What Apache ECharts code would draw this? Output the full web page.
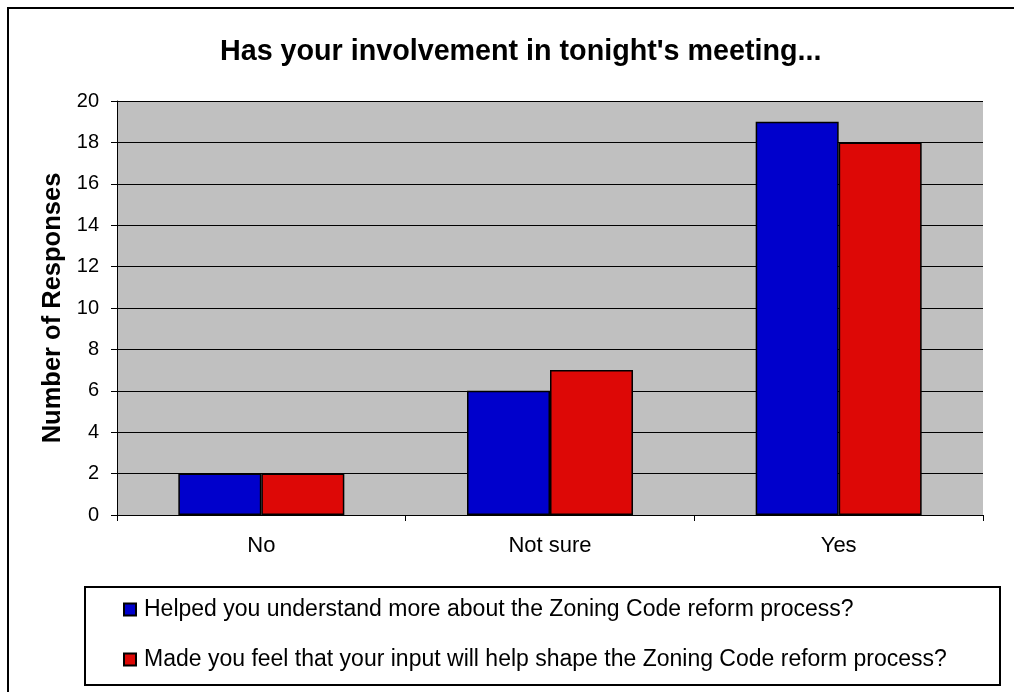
<!DOCTYPE html>
<html>
<head>
<meta charset="utf-8">
<script src="https://cdn.jsdelivr.net/npm/echarts@6/dist/echarts.min.js"></script>
<style>
  html, body { margin: 0; padding: 0; background: #fff; }
  #J_Chart { width: 1014px; height: 692px; }
</style>
</head>
<body>
<div id="J_Chart"></div>
<script>
// chart data
const categories = ['No', 'Not sure', 'Yes'];
const seriesNames = [
    'Helped you understand more about the Zoning Code reform process?',
    'Made you feel that your input will help shape the Zoning Code reform process?'
];
const helpedValues = [2, 6, 19];
const shapeValues = [2, 7, 18];

const font = "'Liberation Sans', Arial, sans-serif";

const chartDom = document.getElementById('J_Chart');
const myChart = echarts.init(chartDom);

let option = {
    animation: false,
    backgroundColor: '#fff',
    title: {
        text: "Has your involvement in tonight's meeting...",
        left: 215,
        top: 33,
        textStyle: {
            fontFamily: font,
            fontSize: 28.7,
            fontWeight: 'bold',
            color: '#000'
        }
    },
    grid: {
        left: 117,
        top: 101,
        right: 31,
        bottom: 177,
        show: true,
        backgroundColor: '#c0c0c0',
        borderWidth: 0
    },
    legend: {
        orient: 'vertical',
        left: 123,
        top: 598,
        padding: 0,
        itemWidth: 12,
        itemHeight: 12,
        itemGap: 27,
        icon: 'rect',
        textStyle: {
            fontFamily: font,
            fontSize: 23,
            color: '#000',
            padding: [0, 0, 0, 3]
        },
        data: seriesNames
    },
    xAxis: {
        type: 'category',
        data: categories,
        axisLine: { lineStyle: { color: '#000', width: 1 } },
        axisTick: { show: true, length: 6, lineStyle: { color: '#000' } },
        axisLabel: {
            fontFamily: font,
            fontSize: 22,
            color: '#000',
            margin: 20
        }
    },
    yAxis: {
        type: 'value',
        min: 0,
        max: 20,
        interval: 2,
        name: 'Number of Responses',
        nameLocation: 'middle',
        nameRotate: 90,
        nameGap: 51,
        nameTextStyle: {
            fontFamily: font,
            fontSize: 25.5,
            fontWeight: 'bold',
            color: '#000'
        },
        axisLine: { show: true, lineStyle: { color: '#000', width: 1 } },
        axisTick: { show: true, length: 6, lineStyle: { color: '#000' } },
        axisLabel: {
            fontFamily: font,
            fontSize: 20,
            color: '#000',
            margin: 18
        },
        splitLine: { show: true, lineStyle: { color: '#000', width: 1 } }
    },
    series: [{
        name: seriesNames[0],
        type: 'bar',
        data: helpedValues,
        barGap: '0%',
        barCategoryGap: '42.5%',
        itemStyle: { color: '#0000cc', borderColor: '#000', borderWidth: 1.5 }
    }, {
        name: seriesNames[1],
        type: 'bar',
        data: shapeValues,
        itemStyle: { color: '#dd0806', borderColor: '#000', borderWidth: 1.5 }
    }],
    graphic: [{
        // outer chart frame
        type: 'rect',
        shape: { x: 8, y: 8, width: 1020, height: 700 },
        style: { fill: 'none', stroke: '#000', lineWidth: 2 },
        silent: true
    }, {
        // legend box
        type: 'rect',
        shape: { x: 85, y: 587, width: 915, height: 98 },
        style: { fill: 'none', stroke: '#000', lineWidth: 2 },
        silent: true
    }]
};

option && myChart.setOption(option);
</script>
</body>
</html>
